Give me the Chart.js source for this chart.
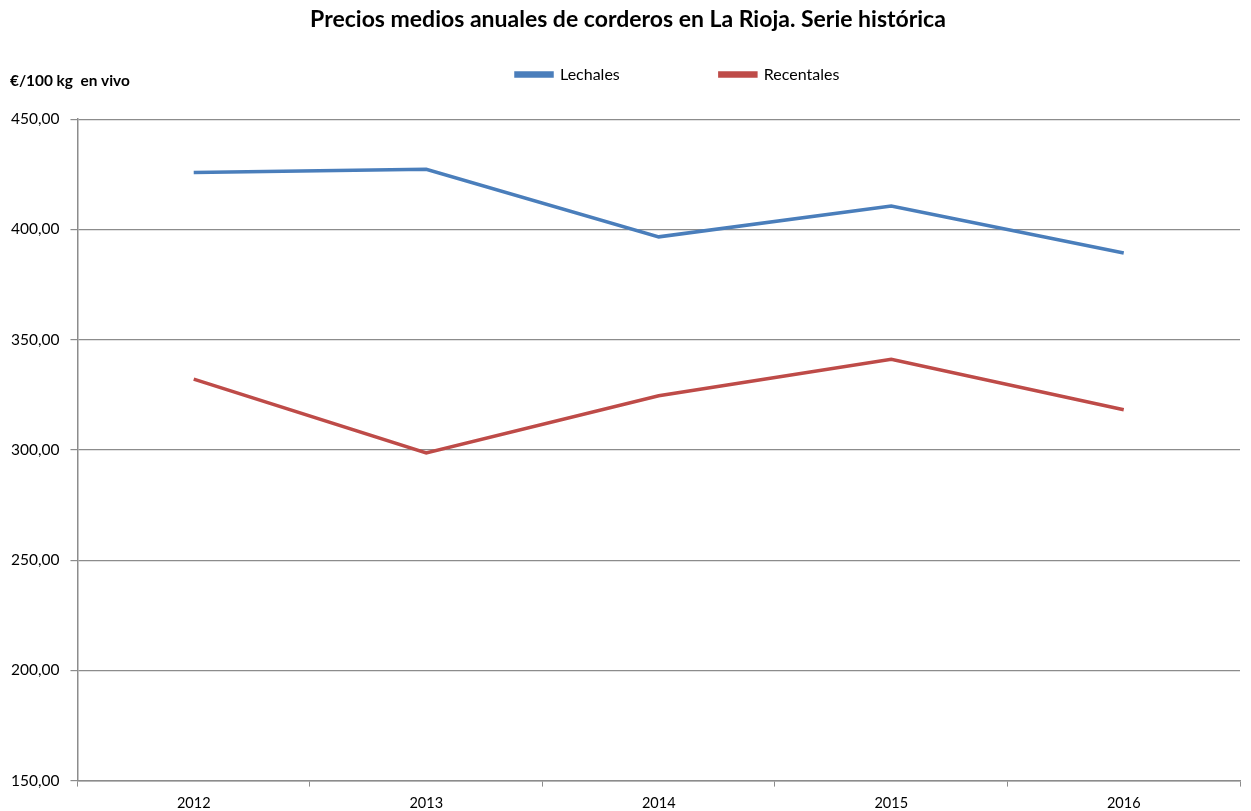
<!DOCTYPE html>
<html>
  <head>
    <meta charset="utf-8">
    <title>Precios medios anuales de corderos en La Rioja</title>
    <script src="https://cdn.jsdelivr.net/npm/chart.js"></script>
    <style>
      html, body { margin: 0; padding: 0; background: #fff; }
      #wrap { width: 1251px; height: 811px; }
    </style>
  </head>
  <body>
    <div id="wrap"><canvas id="priceChart"></canvas></div>

    <script>
      // Data
      const years = ['2012', '2013', '2014', '2015', '2016'];
      const lechales = [425.8, 427.2, 396.6, 410.6, 389.3];
      const recentales = [332.1, 298.6, 324.5, 341.1, 318.2];
      const yTicks = [150, 200, 250, 300, 350, 400, 450];

      const FONT = 'Lato, "Open Sans", sans-serif';
      const LEGEND_FONT = { family: FONT, size: 16 };
      const LEGEND_GAP = 90;      // extra space after first legend entry
      const LEGEND_START = 516;   // x where the legend begins
      const LEGEND_SPACE = 26.5;  // extra room under the legend
      const TITLE_SHIFT = 8;      // title sits a bit right of centre

      // unit label at the top left
      const unitLabel = {
        id: 'unitLabel',
        afterDraw(chart) {
          const c = chart.ctx;
          c.save();
          c.font = 'bold 15.4px ' + FONT;
          c.fillStyle = '#000';
          c.textBaseline = 'middle';
          c.fillText('€/100 kg  en vivo', 10, 81);
          c.restore();
        }
      };

      // legend: more room below, moved right; title: nudged right
      const layoutTweak = {
        id: 'layoutTweak',
        beforeInit(chart) {
          const lg = chart.legend;
          const fit = lg.fit;
          lg.fit = function () {
            fit.call(this);
            this.height += LEGEND_SPACE;
          };
          const draw = lg.draw;
          lg.draw = function () {
            const pad = this.options.labels.padding;
            const cur = (this.left + pad + this.right - this.lineWidths[0]) / 2;
            const c = this.ctx;
            c.save();
            c.translate(LEGEND_START - cur, 0);
            draw.call(this);
            c.restore();
          };
          const tb = chart.titleBlock;
          const tdraw = tb.draw;
          tb.draw = function () {
            const c = this.ctx;
            c.save();
            c.translate(TITLE_SHIFT, 0);
            tdraw.call(this);
            c.restore();
          };
        }
      };

      const ctx = document.getElementById('priceChart').getContext('2d');
      new Chart(ctx, {
        type: 'line',
        data: {
          labels: years,
          datasets: [
            {
              label: 'Lechales',
              data: lechales,
              borderColor: '#4A7EBB',
              backgroundColor: '#4A7EBB',
              borderWidth: 3.5,
              pointRadius: 0,
              tension: 0
            },
            {
              label: 'Recentales',
              data: recentales,
              borderColor: '#BE4B48',
              backgroundColor: '#BE4B48',
              borderWidth: 3.5,
              pointRadius: 0,
              tension: 0
            }
          ]
        },
        options: {
          responsive: true,
          maintainAspectRatio: false,
          animation: false,
          layout: { padding: { left: 0, right: 11, top: 0, bottom: -9 } },
          plugins: {
            title: {
              display: true,
              text: 'Precios medios anuales de corderos en La Rioja. Serie histórica',
              color: '#000',
              font: { family: FONT, size: 23, weight: 'bold' },
              padding: { top: 6, bottom: 23 }
            },
            legend: {
              display: true,
              labels: {
                color: '#000',
                font: LEGEND_FONT,
                boxWidth: 36,
                boxHeight: 3,
                padding: 10,
                generateLabels(chart) {
                  const items = Chart.defaults.plugins.legend.labels.generateLabels(chart);
                  const c = chart.ctx;
                  c.save();
                  c.font = LEGEND_FONT.size + 'px ' + FONT;
                  const sp = c.measureText('\u00A0').width || 4;
                  c.restore();
                  items[0].text += '\u00A0'.repeat(Math.round(LEGEND_GAP / sp));
                  return items;
                }
              }
            },
            tooltip: { enabled: false }
          },
          scales: {
            x: {
              offset: true,
              grid: {
                display: true,
                offset: true,
                drawOnChartArea: false,
                drawTicks: true,
                tickLength: 6,
                color: '#8c8c8c'
              },
              border: { color: '#8c8c8c', width: 1.5 },
              ticks: {
                color: '#000',
                font: { family: FONT, size: 14.5 },
                padding: 8,
                maxRotation: 0
              }
            },
            y: {
              min: 150,
              max: 450,
              afterBuildTicks(axis) {
                axis.ticks = yTicks.map(v => ({ value: v }));
              },
              grid: {
                color: '#8c8c8c',
                lineWidth: 1.2,
                tickLength: 7
              },
              border: { color: '#8c8c8c', width: 1.5 },
              ticks: {
                color: '#000',
                font: { family: FONT, size: 15.5 },
                padding: 11,
                callback: v => v.toFixed(2).replace('.', ',')
              }
            }
          }
        },
        plugins: [unitLabel, layoutTweak]
      });
    </script>
  </body>
</html>
